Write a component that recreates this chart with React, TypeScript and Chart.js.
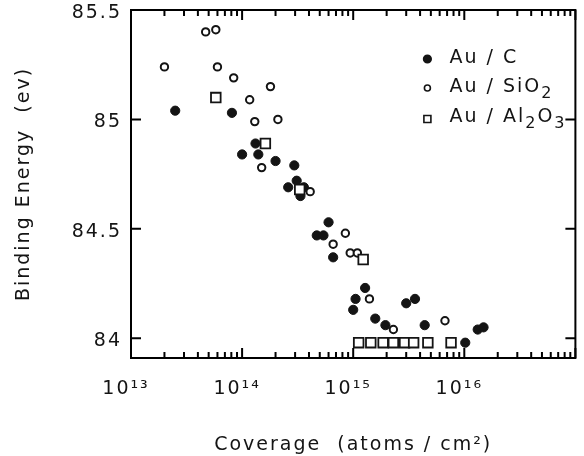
import React, { useEffect, useRef } from "react";
import { Chart, registerables } from "chart.js";

Chart.register(...registerables);

const FONT = '"DejaVu Sans", "Liberation Sans", sans-serif';
const INK = "#141414";
const LINE = "#000000";

const seriesLabels = ["Au / C", "Au / SiO₂", "Au / Al₂O₃"];

// [coverage (atoms/cm²), binding energy (eV)]
const auOnCarbon: [number, number][] = [
  [2.5e13, 85.04], [8.1e13, 85.03], [1.32e14, 84.89], [1.0e14, 84.84], [1.4e14, 84.84],
  [2.0e14, 84.81], [2.95e14, 84.79], [2.6e14, 84.69], [3.1e14, 84.72], [3.6e14, 84.69],
  [3.35e14, 84.65], [6.0e14, 84.53], [4.7e14, 84.47], [5.4e14, 84.47], [6.6e14, 84.37],
  [1.28e15, 84.23], [1.05e15, 84.18], [1.0e15, 84.13], [1.58e15, 84.09], [1.95e15, 84.06],
  [3.0e15, 84.16], [3.6e15, 84.18], [4.4e15, 84.06], [1.32e16, 84.04], [1.49e16, 84.05],
  [1.02e16, 83.98],
];

const auOnSiO2: [number, number][] = [
  [2.0e13, 85.24], [4.7e13, 85.40], [5.8e13, 85.41], [6.0e13, 85.24], [8.4e13, 85.19],
  [1.8e14, 85.15], [1.17e14, 85.09], [1.3e14, 84.99], [2.1e14, 85.0], [1.5e14, 84.78],
  [4.1e14, 84.67], [8.5e14, 84.48], [6.6e14, 84.43], [9.4e14, 84.39], [1.09e15, 84.39],
  [1.4e15, 84.18], [2.3e15, 84.04], [6.7e15, 84.08],
];

const auOnAl2O3: [number, number][] = [
  [5.8e13, 85.10], [1.62e14, 84.89], [3.3e14, 84.68], [1.23e15, 84.36],
  [1.12e15, 83.98], [1.44e15, 83.98], [1.86e15, 83.98], [2.3e15, 83.98],
  [2.9e15, 83.98], [3.5e15, 83.98], [4.7e15, 83.98], [7.6e15, 83.98],
];

const xDecades = [1e13, 1e14, 1e15, 1e16];
const xTickLabels = ["10¹³", "10¹⁴", "10¹⁵", "10¹⁶"];
const xMin = 1e13;
const xMax = 1e17;
const yTicks = [84, 84.5, 85, 85.5];
const yMin = 83.91;
const yMax = 85.5;
const xTitle = "Coverage  (atoms / cm²)";
const yTitle = "Binding Energy  (ev)";

const xTickValues: number[] = [];
for (const d of xDecades) {
  for (let m = 1; m <= 9; m++) xTickValues.push(m * d);
}
xTickValues.push(xMax);

const toPoints = (arr: [number, number][]) => arr.map(([x, y]) => ({ x, y }));

function applySpacing(chart: any) {
  const c = chart.ctx as any;
  if (c && "letterSpacing" in c) c.letterSpacing = "2px";
}

const SUBS: Record<string, string> = {
  "₀": "0", "₁": "1", "₂": "2", "₃": "3", "₄": "4",
  "₅": "5", "₆": "6", "₇": "7", "₈": "8", "₉": "9",
};

function drawRichLabel(ctx: CanvasRenderingContext2D, text: string, x: number, baseline: number) {
  let cx = x;
  ctx.textAlign = "left";
  ctx.textBaseline = "alphabetic";
  for (const ch of Array.from(text)) {
    if (SUBS[ch]) {
      ctx.font = `16px ${FONT}`;
      ctx.fillText(SUBS[ch], cx, baseline + 6);
      cx += ctx.measureText(SUBS[ch]).width;
    } else {
      ctx.font = `19px ${FONT}`;
      ctx.fillText(ch, cx, baseline);
      cx += ctx.measureText(ch).width;
    }
  }
}

const decorPlugin = {
  id: "decor",
  beforeInit: applySpacing,
  beforeUpdate: applySpacing,
  beforeLayout: applySpacing,
  beforeDraw: applySpacing,
  afterDraw(chart: any) {
    const ctx: CanvasRenderingContext2D = chart.ctx;
    const { left, right, top, bottom } = chart.chartArea;
    const xs = chart.scales.x;
    const ys = chart.scales.y;

    ctx.save();
    ctx.strokeStyle = LINE;
    ctx.lineWidth = 2;
    ctx.beginPath();
    ctx.rect(left, top, right - left, bottom - top);
    ctx.stroke();
    ctx.beginPath();
    for (const t of xs.ticks) {
      const px = xs.getPixelForValue(t.value);
      const lg = Math.log10(t.value);
      const major = Math.abs(lg - Math.round(lg)) < 1e-9;
      const len = major ? 10 : 6;
      ctx.moveTo(px, bottom);
      ctx.lineTo(px, bottom - len);
      ctx.moveTo(px, top);
      ctx.lineTo(px, top + len);
    }
    for (const t of ys.ticks) {
      const py = ys.getPixelForValue(t.value);
      ctx.moveTo(left, py);
      ctx.lineTo(left + 10, py);
      ctx.moveTo(right, py);
      ctx.lineTo(right - 10, py);
    }
    ctx.stroke();
    ctx.restore();

    ctx.save();
    const mx = right - 148;
    const tx = right - 126;
    const rows = [46, 75, 105];
    chart.data.datasets.forEach((ds: any, i: number) => {
      const cy = top + rows[i];
      ctx.lineWidth = 1.6;
      ctx.strokeStyle = INK;
      ctx.fillStyle = ds.backgroundColor;
      ctx.beginPath();
      if (ds.pointStyle === "rect") {
        ctx.rect(mx - 3.5, cy + 4 - 3.5, 7, 7);
      } else {
        ctx.arc(mx, cy + 3, i === 0 ? 3.8 : 3, 0, Math.PI * 2);
      }
      ctx.fill();
      ctx.stroke();
      ctx.fillStyle = INK;
      drawRichLabel(ctx, ds.label, tx, cy + 7);
    });
    ctx.restore();
  },
};

export default function App() {
  const ref = useRef<HTMLCanvasElement | null>(null);

  useEffect(() => {
    if (!ref.current) return;
    const chart = new Chart(ref.current, {
      type: "scatter",
      data: {
        datasets: [
          {
            label: seriesLabels[0],
            data: toPoints(auOnCarbon),
            pointStyle: "circle",
            pointRadius: 4.6,
            backgroundColor: INK,
            borderColor: INK,
            borderWidth: 1,
            order: 2,
          },
          {
            label: seriesLabels[1],
            data: toPoints(auOnSiO2),
            pointStyle: "circle",
            pointRadius: 3.7,
            backgroundColor: "#ffffff",
            borderColor: INK,
            borderWidth: 2,
            order: 1,
          },
          {
            label: seriesLabels[2],
            data: toPoints(auOnAl2O3),
            pointStyle: "rect",
            pointRadius: 6.8,
            backgroundColor: "#ffffff",
            borderColor: INK,
            borderWidth: 1.8,
            order: 0,
          },
        ],
      } as any,
      options: {
        responsive: false,
        animation: false,
        events: [],
        layout: { padding: { top: 10, right: 6, left: 0, bottom: 0 } },
        plugins: {
          legend: { display: false },
          tooltip: { enabled: false },
        },
        scales: {
          x: {
            type: "logarithmic",
            min: xMin,
            max: xMax,
            grid: { display: false, drawTicks: false },
            border: { display: false },
            afterBuildTicks: (s: any) => {
              s.ticks = xTickValues.map((v) => ({ value: v }));
            },
            afterFit: (s: any) => {
              s.height = 98;
              s.paddingLeft = 0;
              s.paddingRight = 0;
            },
            ticks: {
              autoSkip: false,
              maxRotation: 0,
              minRotation: 0,
              padding: 20,
              labelOffset: -5,
              color: INK,
              font: { family: FONT, size: 19 },
              callback: (v: any) => {
                const n = Number(v);
                const i = xDecades.findIndex((d) => Math.abs(d - n) < d * 1e-6);
                return i >= 0 ? xTickLabels[i] : "";
              },
            },
            title: {
              display: true,
              text: xTitle,
              color: INK,
              font: { family: FONT, size: 19 },
              padding: { top: 0, bottom: 0 },
            },
          },
          y: {
            type: "linear",
            min: yMin,
            max: yMax,
            grid: { display: false, drawTicks: false },
            border: { display: false },
            afterBuildTicks: (s: any) => {
              s.ticks = yTicks.map((v) => ({ value: v }));
            },
            afterFit: (s: any) => {
              s.width = 131;
              s.paddingTop = 0;
              s.paddingBottom = 0;
            },
            ticks: {
              padding: 9,
              labelOffset: 3,
              color: INK,
              font: { family: FONT, size: 19 },
              callback: (v: any) => String(v),
            },
            title: {
              display: true,
              text: yTitle,
              color: INK,
              font: { family: FONT, size: 19 },
              padding: { top: 13, bottom: 0 },
            },
          },
        },
      } as any,
      plugins: [decorPlugin],
    });
    return () => chart.destroy();
  }, []);

  return (
    <canvas
      ref={ref}
      width={584}
      height={456}
      style={{ position: "fixed", left: 0, top: 0, display: "block", background: "#ffffff" }}
    />
  );
}
